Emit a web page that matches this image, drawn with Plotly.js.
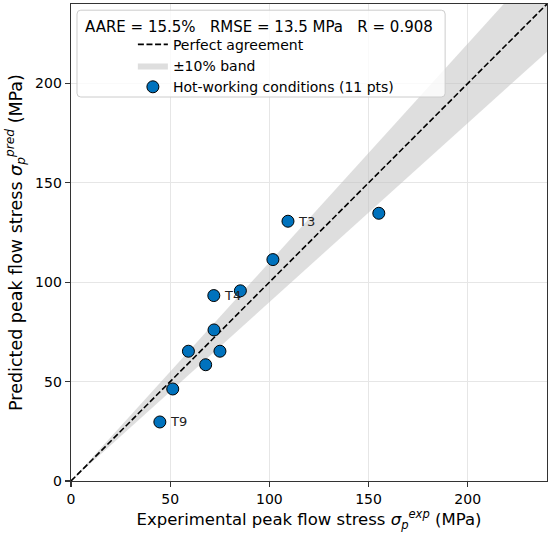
<!DOCTYPE html>
<html>
<head>
<meta charset="utf-8">
<script src="https://cdn.plot.ly/plotly-3.0.1.min.js"></script>
<style>html,body{margin:0;padding:0;background:#fff}#chart{width:550px;height:534px}</style>
</head>
<body>
<div id="chart"></div>
<script>
// ---- data ----
const expStress  = [44.8, 51.3, 59.2, 67.9, 72.1, 75.1, 72.0, 85.4, 101.8, 109.4, 155.2];
const predStress = [29.7, 46.3, 65.3, 58.5, 76.0, 65.3, 93.3, 95.7, 111.4, 130.7, 134.7];
const labelIdx   = [9, 6, 0];
const labelTxt   = ['T3', 'T4', 'T9'];
const axisRange  = [0, 240];
const bandFrac   = 0.10;
const statsText  = 'AARE = 15.5%\u00a0\u00a0\u00a0RMSE = 13.5 MPa\u00a0\u00a0\u00a0R = 0.908';
const tickVals   = [0, 50, 100, 150, 200];

const FONT = 'DejaVu Sans, Liberation Sans, sans-serif';
const lo = axisRange[0], hi = axisRange[1];

const band = {
  x: [lo, hi, hi, lo],
  y: [lo * (1 + bandFrac), hi * (1 + bandFrac), hi * (1 - bandFrac), lo * (1 - bandFrac)],
  type: 'scatter', mode: 'lines', fill: 'toself',
  fillcolor: 'rgba(190,190,190,0.5)', line: {width: 0, color: 'rgba(0,0,0,0)'},
  name: '\u00b110% band', legendrank: 2, hoverinfo: 'skip'
};
const ideal = {
  x: [lo, hi], y: [lo, hi], type: 'scatter', mode: 'lines',
  line: {color: '#000', width: 1.6, dash: '6px,2.6px'},
  name: 'Perfect agreement', legendrank: 1
};
const pts = {
  x: expStress, y: predStress, type: 'scatter', mode: 'markers',
  marker: {size: 12, color: '#0072BD', line: {color: '#000', width: 1}},
  name: 'Hot-working conditions (11 pts)', legendrank: 3
};

const annotations = labelIdx.map((k, i) => ({
  x: expStress[k], y: predStress[k], xref: 'x', yref: 'y',
  text: labelTxt[i], showarrow: false, xanchor: 'left', yanchor: 'middle',
  xshift: 8, font: {family: FONT, size: 13, color: '#222'}
}));
annotations.push({
  x: 0.026, y: 0.952, xref: 'paper', yref: 'paper', xanchor: 'left', yanchor: 'middle',
  text: statsText, showarrow: false, font: {family: FONT, size: 15, color: '#000'}
});

// rounded legend frame (paper coords)
const bx0 = 0.0126, bx1 = 0.786, by0 = 0.805, by1 = 0.987, r = 0.008;
const framePath = `M ${bx0 + r} ${by1} L ${bx1 - r} ${by1} Q ${bx1} ${by1} ${bx1} ${by1 - r} ` +
  `L ${bx1} ${by0 + r} Q ${bx1} ${by0} ${bx1 - r} ${by0} L ${bx0 + r} ${by0} Q ${bx0} ${by0} ${bx0} ${by0 + r} ` +
  `L ${bx0} ${by1 - r} Q ${bx0} ${by1} ${bx0 + r} ${by1} Z`;

const axisCommon = {
  range: axisRange, tickvals: tickVals, ticks: 'outside', ticklen: 5, tickwidth: 1.2,
  tickcolor: '#333', showline: true, mirror: true, linecolor: '#333', linewidth: 1.4,
  showgrid: true, gridcolor: '#e6e6e6', gridwidth: 1, zeroline: false,
  tickfont: {family: FONT, size: 14, color: '#000'}
};

const layout = {
  width: 550, height: 534,
  margin: {l: 71, r: 3, t: 4, b: 53},
  paper_bgcolor: '#fff', plot_bgcolor: '#fff',
  showlegend: true,
  legend: {x: 0.13, y: 0.948, xanchor: 'left', yanchor: 'top', bgcolor: 'rgba(0,0,0,0)',
    borderwidth: 0, font: {family: FONT, size: 14, color: '#000'}, tracegroupgap: 0},
  xaxis: Object.assign({}, axisCommon, {
    title: {text: 'Experimental peak flow stress <i>σ</i><sub><i>p</i></sub><sup><i>exp</i></sup> (MPa)',
      font: {family: FONT, size: 16.5, color: '#000'}, standoff: 4}
  }),
  yaxis: Object.assign({}, axisCommon, {
    title: {text: 'Predicted peak flow stress <i>σ</i><sub><i>p</i></sub><sup><i>pred</i></sup> (MPa)',
      font: {family: FONT, size: 17.5, color: '#000'}, standoff: 8}
  }),
  shapes: [{type: 'path', xref: 'paper', yref: 'paper', path: framePath, layer: 'above',
    fillcolor: 'rgba(255,255,255,0.8)', line: {color: '#cccccc', width: 1}}],
  annotations: annotations
};

Plotly.newPlot('chart', [band, ideal, pts], layout, {displayModeBar: false, staticPlot: true});
</script>
</body>
</html>
